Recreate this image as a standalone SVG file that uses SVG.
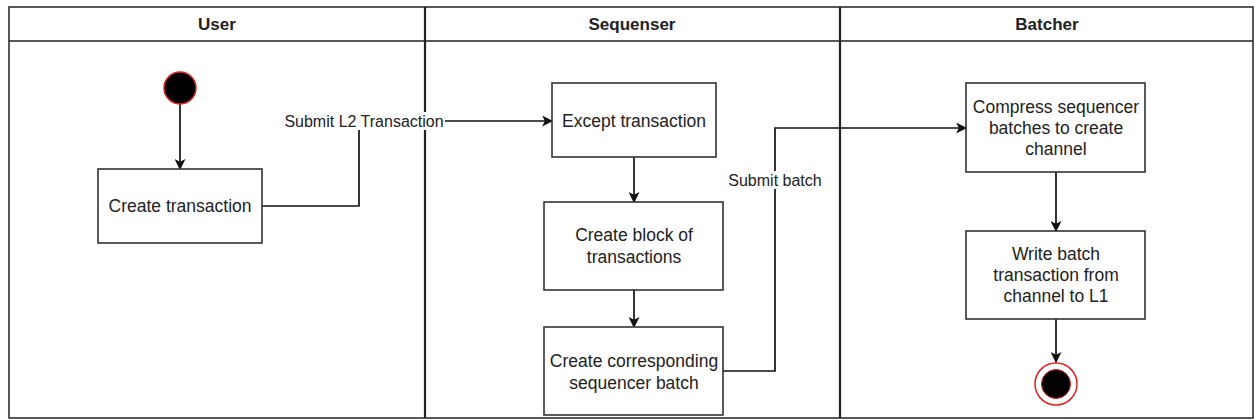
<svg xmlns="http://www.w3.org/2000/svg" width="1255" height="420" viewBox="0 0 1255 420">
<defs>
<marker id="arr" viewBox="0 0 10 10" refX="9" refY="5" markerWidth="11" markerHeight="11" markerUnits="userSpaceOnUse" orient="auto">
<path d="M0,0 L10,5 L0,10 L2.5,5 Z" fill="#111"/>
</marker>
<style>
.lane{fill:#fff;stroke:#222;stroke-width:1.5}
.div{stroke:#222;stroke-width:2.2}
.hd{font-family:"Liberation Sans",Arial,sans-serif;font-size:17px;font-weight:bold;fill:#222;text-anchor:middle}
.box{fill:#fff;stroke:#333;stroke-width:1.6}
.t{font-family:"Liberation Sans",Arial,sans-serif;font-size:17.5px;fill:#222;text-anchor:middle}
.lbl{font-family:"Liberation Sans",Arial,sans-serif;font-size:16px;fill:#222;text-anchor:middle}
.edge{fill:none;stroke:#111;stroke-width:1.7}
.arrow{marker-end:url(#arr)}
</style>
</defs>
<rect x="0" y="0" width="1255" height="420" fill="#fff"/>
<g id="pool">
<rect class="lane" x="9" y="7" width="1244" height="411"/>
<line x1="9" y1="41" x2="1253" y2="41" stroke="#222" stroke-width="1.5"/>
<line class="div" x1="425" y1="7" x2="425" y2="418"/>
<line class="div" x1="840" y1="7" x2="840" y2="418"/>
<text class="hd" x="217" y="30">User</text>
<text class="hd" x="632" y="30">Sequenser</text>
<text class="hd" x="1047" y="30">Batcher</text>
</g>
<g id="connectors">
<line class="edge arrow" x1="180" y1="104" x2="180" y2="169"/>
<polyline class="edge arrow" points="262,206 359,206 359,121 552,121"/>
<line class="edge arrow" x1="634" y1="157" x2="634" y2="202"/>
<line class="edge arrow" x1="634" y1="290" x2="634" y2="327"/>
<polyline class="edge arrow" points="723,371 775,371 775,128 966,128"/>
<line class="edge arrow" x1="1056" y1="172" x2="1056" y2="231"/>
<line class="edge arrow" x1="1056" y1="319" x2="1056" y2="362"/>
<rect x="283" y="112" width="162" height="18" fill="#fff"/>
<text class="lbl" x="364" y="127">Submit L2 Transaction</text>
<rect x="727" y="171" width="96" height="18" fill="#fff"/>
<text class="lbl" x="775" y="186">Submit batch</text>
</g>
<g id="start">
<circle cx="180" cy="88" r="16" fill="#000" stroke="#e02020" stroke-width="1.5"/>
</g>
<g id="create-transaction">
<rect class="box" x="98" y="169" width="164" height="74"/>
<text class="t" x="180" y="212">Create transaction</text>
</g>
<g id="except-transaction">
<rect class="box" x="552" y="83" width="164" height="74"/>
<text class="t" x="634" y="127">Except transaction</text>
</g>
<g id="create-block">
<rect class="box" x="544" y="202" width="179" height="88"/>
<text class="t" x="634" y="241">Create block of</text>
<text class="t" x="634" y="263">transactions</text>
</g>
<g id="create-batch">
<rect class="box" x="544" y="327" width="179" height="88"/>
<text class="t" x="634" y="367">Create corresponding</text>
<text class="t" x="634" y="389">sequencer batch</text>
</g>
<g id="compress">
<rect class="box" x="966" y="83" width="179" height="89"/>
<text class="t" x="1056" y="113">Compress sequencer</text>
<text class="t" x="1056" y="134">batches to create</text>
<text class="t" x="1056" y="155">channel</text>
</g>
<g id="write-batch">
<rect class="box" x="966" y="231" width="179" height="88"/>
<text class="t" x="1056" y="260">Write batch</text>
<text class="t" x="1056" y="281">transaction from</text>
<text class="t" x="1056" y="302">channel to L1</text>
</g>
<g id="end">
<circle cx="1056" cy="384" r="21" fill="#fff" stroke="#e02020" stroke-width="1.5"/>
<circle cx="1056" cy="384" r="14.5" fill="#000" stroke="#e02020" stroke-width="1"/>
</g>
</svg>
